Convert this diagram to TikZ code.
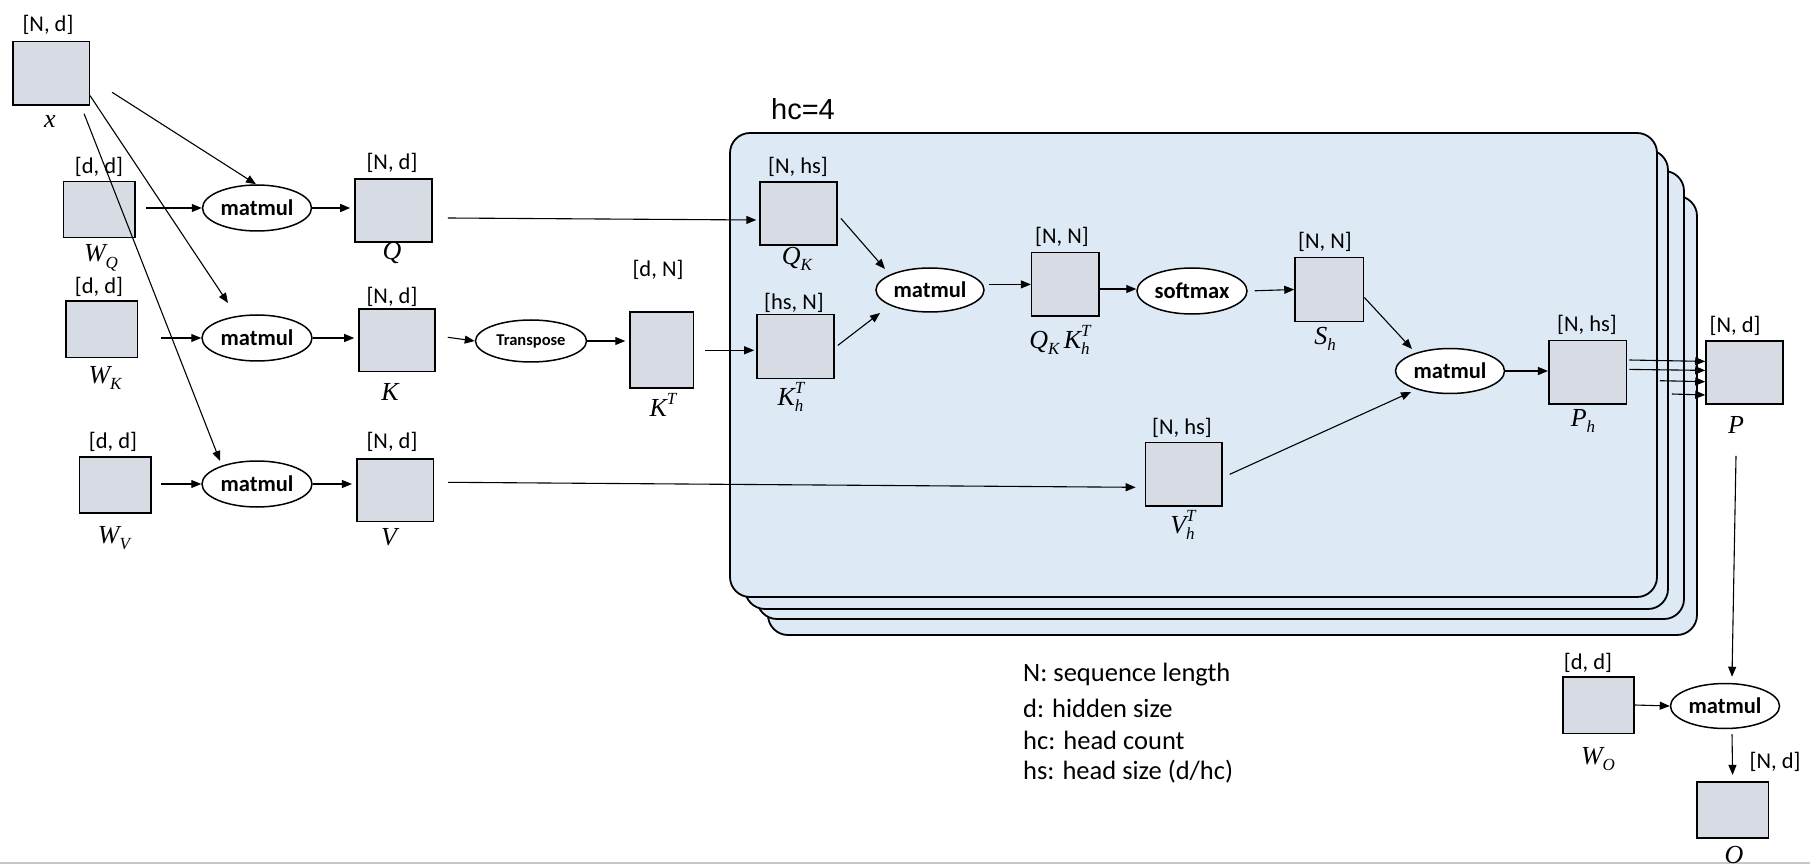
\documentclass[tikz,border=0pt]{standalone}
\usepackage{fontspec}
\setmainfont{Carlito}
\newfontfamily\hcfont{Liberation Sans}
\newfontfamily\lblfont{Liberation Serif}
\newcommand\lv[1]{{\lblfont\itshape #1}}
\newcommand\lsub[1]{\raisebox{-0.26em}{\fontsize{17}{17}\selectfont\lblfont\itshape #1}}
\newcommand\lsup[1]{\raisebox{0.45em}{\fontsize{17}{17}\selectfont\lblfont\itshape #1}}
\newcommand\lsubsup[2]{\rlap{\lsub{#1}}\lsup{#2}}
\usetikzlibrary{shapes.geometric,arrows.meta,calc}
\definecolor{boxfill}{RGB}{214,219,228}
\definecolor{panelfill}{RGB}{221,233,245}
\begin{document}
\begin{tikzpicture}[x=1pt,y=-1pt,
  mat/.style={draw=black, line width=1.6pt, fill=boxfill, inner sep=0pt},
  op/.style={ellipse, draw=black, line width=1.5pt, fill=white, inner sep=0pt, font=\fontsize{22.5}{27}\selectfont\bfseries},
  dim/.style={inner sep=0pt, font=\fontsize{22.5}{27}\selectfont},
  lbl/.style={inner sep=0pt, font=\fontsize{26}{30}\selectfont},
  legend/.style={inner sep=0pt, anchor=west, font=\fontsize{26.5}{32}\selectfont},
  panel/.style={draw=black, line width=1.8pt, fill=panelfill, rounded corners=20pt, inner sep=0pt},
  arr/.style={-{Triangle[length=10pt,width=8pt]}, line width=1.1pt},
]
\fill[white] (0,0) rectangle (1810,866);
\useasboundingbox (0,0) rectangle (1810,866);
\draw[black!22, line width=1.5pt] (0,863) -- (1810,863);

% stacked head panels
\node[panel, minimum width=929pt, minimum height=439pt] (p4) at (1232.5,415.5) {};
\node[panel, minimum width=927pt, minimum height=448pt] (p3) at (1220.5,395) {};
\node[panel, minimum width=923pt, minimum height=459pt] (p2) at (1206.5,379.5) {};
\node[panel, minimum width=927pt, minimum height=464pt] (p1) at (1193.5,365) {};
\node[inner sep=0pt, font=\hcfont\fontsize{29}{34}\selectfont] (hc) at (803,109) {hc=4};

% matrices
\node[mat, minimum width=76.6pt, minimum height=63.3pt] (x) at (51,73.3) {};
\node[mat, minimum width=71.7pt, minimum height=56pt] (WQ) at (99.2,209.7) {};
\node[mat, minimum width=77pt, minimum height=63pt] (Q) at (393.5,210.5) {};
\node[mat, minimum width=71.6pt, minimum height=56.3pt] (WK) at (101.5,329.2) {};
\node[mat, minimum width=76pt, minimum height=62.7pt] (K) at (397,340.3) {};
\node[mat, minimum width=71.7pt, minimum height=56pt] (WV) at (115.2,484.7) {};
\node[mat, minimum width=76.6pt, minimum height=62.7pt] (V) at (395,490.3) {};
\node[mat, minimum width=63.3pt, minimum height=76pt] (KT) at (661.7,350.3) {};
\node[mat, minimum width=77pt, minimum height=63pt] (QK) at (798.6,213.4) {};
\node[mat, minimum width=77pt, minimum height=64pt] (Kh) at (795.5,346.4) {};
\node[mat, minimum width=67.3pt, minimum height=63.6pt] (QKKh) at (1065.3,284.4) {};
\node[mat, minimum width=68.5pt, minimum height=64pt] (Sh) at (1329.3,289.5) {};
\node[mat, minimum width=76.5pt, minimum height=63.4pt] (Vh) at (1183.7,474.3) {};
\node[mat, minimum width=77.7pt, minimum height=63.5pt] (Ph) at (1587.6,372.4) {};
\node[mat, minimum width=77pt, minimum height=63.3pt] (P) at (1744.5,372.4) {};
\node[mat, minimum width=71pt, minimum height=56.6pt] (WO) at (1598.5,705) {};
\node[mat, minimum width=71.7pt, minimum height=56pt] (O) at (1732.6,809.7) {};

% operations
\node[op, minimum width=109pt, minimum height=46pt] (m1) at (257,208) {matmul};
\node[op, minimum width=110pt, minimum height=46pt] (m2) at (257,338) {matmul};
\node[op, minimum width=110pt, minimum height=46pt] (m3) at (257,484) {matmul};
\node[op, minimum width=111pt, minimum height=42pt, font=\fontsize{16.5}{20}\selectfont\bfseries] (Tr) at (531,341) {Transpose};
\node[op, minimum width=108pt, minimum height=44pt] (m4) at (930,290) {matmul};
\node[op, minimum width=110pt, minimum height=46pt] (sm) at (1192,291) {softmax};
\node[op, minimum width=109pt, minimum height=45pt] (m5) at (1450,371) {matmul};
\node[op, minimum width=109pt, minimum height=45pt] (m6) at (1725,706) {matmul};

% dimension labels
\node[dim] (xd) at (48,25) {[N, d]};
\node[dim] (WQd) at (99,167) {[d, d]};
\node[dim] (Qd) at (392,163) {[N, d]};
\node[dim] (WKd) at (99,287) {[d, d]};
\node[dim] (Kd) at (392,297) {[N, d]};
\node[dim] (WVd) at (113,442) {[d, d]};
\node[dim] (Vd) at (392,442) {[N, d]};
\node[dim] (KTd) at (658,270) {[d, N]};
\node[dim] (QKd) at (798,167) {[N, hs]};
\node[dim] (Khd) at (794,303) {[hs, N]};
\node[dim] (QKKhd) at (1062,237) {[N, N]};
\node[dim] (Shd) at (1325,242) {[N, N]};
\node[dim] (Vhd) at (1182,428) {[N, hs]};
\node[dim] (Phd) at (1587,325) {[N, hs]};
\node[dim] (Pd) at (1735,326) {[N, d]};
\node[dim] (WOd) at (1588,663) {[d, d]};
\node[dim] (Od) at (1775,762) {[N, d]};

% names
\node[lbl] (xl) at (50,122) {\lv{x}};
\node[lbl] (WQl) at (101,258) {\lv{W}\lsub{Q}};
\node[lbl] (Ql) at (392,253) {\lv{Q}};
\node[lbl] (WKl) at (105,378) {\lv{W}\lsub{K}};
\node[lbl] (Kl) at (390,392) {\lv{K}};
\node[lbl] (WVl) at (114,538) {\lv{W}\lsub{V}};
\node[lbl] (Vl) at (389,537) {\lv{V}};
\node[lbl] (KTl) at (663,405) {\lv{K}\lsup{T}};
\node[lbl] (QKl) at (797,259) {\lv{Q}\lsub{K}};
\node[lbl] (Khl) at (791,397) {\lv{K}\lsubsup{h}{T}};
\node[lbl] (QKKhl) at (1060,340) {\lv{Q}\lsub{K}\,\lv{K}\lsubsup{h}{T}};
\node[lbl] (Shl) at (1325,339) {\lv{S}\lsub{h}};
\node[lbl] (Vhl) at (1183,525) {\lv{V}\lsubsup{h}{T}};
\node[lbl] (Phl) at (1583,421) {\lv{P}\lsub{h}};
\node[lbl] (Pl) at (1736,425) {\lv{P}};
\node[lbl] (WOl) at (1598,759) {\lv{W}\lsub{O}};
\node[lbl] (Ol) at (1734,855) {\lv{O}};

% legend
\node[legend] (leg1) at (1023,675) {N: sequence length};
\node[legend] (leg2) at (1023,708) {d: hidden size};
\node[legend] (leg3) at (1023,740) {hc: head count};
\node[legend] (leg4) at (1023,772) {hs: head size (d/hc)};

% connectors
\draw[arr] ($(x.east)+(22,19)$) -- ($(m1.north)+(-1,0)$);
\draw[arr] ($(x.south east)+(0,-10)$) -- ($(m2)+(-29,-35)$);
\draw[arr] ($(x.south east)+(-6,8)$) -- ($(m3)+(-37,-23)$);
\draw[arr] ($(WQ.east)+(10,-1.7)$) -- (m1.west);
\draw[arr, shorten >=4pt] (m1.east) -- (m1.east -| Q.west);
\draw[arr] ($(m2.west)+(-40,0)$) -- (m2.west);
\draw[arr, shorten >=4pt] (m2.east) -- (m2.east -| K.west);
\draw[arr] ($(m3.west)+(-40,0)$) -- (m3.west);
\draw[arr, shorten >=4pt] (m3.east) -- (m3.east -| V.west);
\draw[arr] ($(Q.east)+(15,7.5)$) -- ($(QK.west)+(-3,6.6)$);
\draw[arr] ($(K.east)+(12,-3)$) -- (Tr.west);
\draw[arr, shorten >=4pt] (Tr.east) -- (Tr.east -| KT.west);
\draw[arr, shorten <=11pt, shorten >=2pt] (KT.east) -- (KT.east -| Kh.west);
\draw[arr] ($(V.east)+(14,-8)$) -- ($(Vh.west)+(-9,13)$);
\draw[arr] ($(QK.east)+(3,5)$) -- ($(m4)+(-45,-21)$);
\draw[arr] ($(Kh.east)+(3,-1)$) -- ($(m4)+(-50,23)$);
\draw[arr, shorten <=4pt] (m4.east |- QKKh.west) -- (QKKh.west);
\draw[arr] ($(sm.west)+(-38,-2)$) -- ($(sm.west)+(0,-2)$);
\draw[arr, shorten <=7pt] (sm.east) -- (Sh.west);
\draw[arr] ($(Sh.east)+(0,8)$) -- ($(m5)+(-38,-22)$);
\draw[arr] ($(Vh.east)+(7,0)$) -- ($(m5)+(-39,21)$);
\draw[arr] (m5.east) -- (m5.east -| Ph.west);
\draw[arr] ($(Ph.east)+(2,-12.4)$) -- ($(P.west)+(0,-11)$);
\draw[arr] ($(Ph.east)+(2,-3)$) -- ($(P.west)+(0,-2)$);
\draw[arr] ($(p1.east |- Ph.east)+(2,8.3)$) -- ($(P.west)+(0,9.3)$);
\draw[arr] ($(p2.east |- Ph.east)+(3,21.6)$) -- ($(P.west)+(0,22.6)$);
\draw[arr] ($(P.south)+(-8.5,51)$) -- ($(m6.north)+(7,-6)$);
\draw[arr] (WO.east) -- (m6.west);
\draw[arr] ($(m6.south)+(7,5)$) -- ($(O.north)+(0,-6)$);
\end{tikzpicture}
\end{document}
